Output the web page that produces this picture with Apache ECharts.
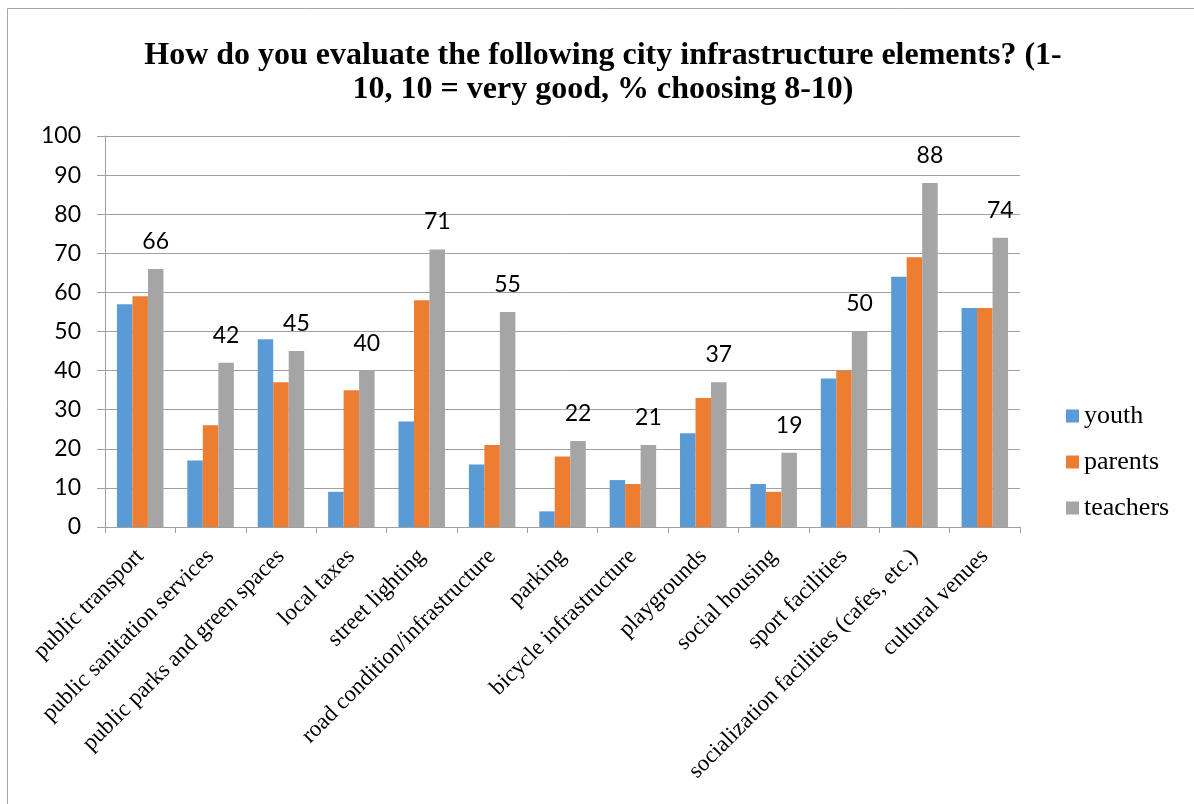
<!DOCTYPE html>
<html>
<head>
<meta charset="utf-8">
<script src="https://cdn.jsdelivr.net/npm/echarts@6/dist/echarts.min.js"></script>
<style>
html,body{margin:0;padding:0;background:#fff;}
#c{width:1194px;height:804px;}
</style>
</head>
<body>
<div id="c"></div>
<script>
const titleLines = ["How do you evaluate the following city infrastructure elements? (1-", "10, 10 = very good, % choosing 8-10)"];
const categories = ["public transport","public sanitation services","public parks and green spaces","local taxes","street lighting","road condition/infrastructure","parking","bicycle infrastructure","playgrounds","social housing","sport facilities","socialization facilities (cafes, etc.)","cultural venues"];
const seriesNames = ["youth","parents","teachers"];
const youth = [57,17,48,9,27,16,4,12,24,11,38,64,56];
const parents = [59,26,37,35,58,21,18,11,33,9,40,69,56];
const teachers = [66,42,45,40,71,55,22,21,37,19,50,88,74];
const yTicks = {min:0, max:100, interval:10};

const colors = ["#5B9BD5","#ED7D31","#A5A5A5"];
const chart = echarts.init(document.getElementById('c'), null, {renderer:'canvas'});
const data = [youth, parents, teachers];
chart.setOption({
  animation:false,
  color: colors,
  graphic:[{type:'rect', shape:{x:7.5,y:8.5,width:1200,height:820}, style:{fill:'none', stroke:'#a6a6a6', lineWidth:1}, silent:true}],
  title:{
    text: titleLines.join('\n'),
    left: 598, textAlign:'center', top:34,
    textStyle:{fontFamily:'Liberation Serif', fontWeight:'bold', fontSize:32, lineHeight:34, color:'#000'}
  },
  legend:{
    orient:'vertical', left:1061, top:398,
    itemWidth:13, itemHeight:13, itemGap:20,
    icon:'rect',
    textStyle:{fontFamily:'Liberation Serif', fontSize:26, lineHeight:26, color:'#000'},
    data: seriesNames
  },
  grid:{left:105, right:174, top:136, bottom:277, containLabel:false},
  xAxis:{
    type:'category', data:categories,
    axisLine:{lineStyle:{color:'#a0a0a0', width:1}},
    axisTick:{show:true, length:6, alignWithLabel:false, lineStyle:{color:'#a0a0a0'}},
    axisLabel:{rotate:45, interval:0, margin:26, fontFamily:'Liberation Serif', fontSize:23, color:'#000'}
  },
  yAxis:{
    type:'value', min:yTicks.min, max:yTicks.max, interval:yTicks.interval,
    axisLine:{show:true, lineStyle:{color:'#a0a0a0'}},
    axisTick:{show:true, length:8, inside:false, lineStyle:{color:'#a0a0a0'}},
    splitLine:{lineStyle:{color:'#a0a0a0', width:1}},
    axisLabel:{margin:24, fontFamily:'Lato', fontSize:23, color:'#000'}
  },
  series: seriesNames.map((n,i)=>({
    name:n, type:'bar', data:data[i], barWidth:15.5, barGap:'0%',
    itemStyle:{color:colors[i]},
    label: i===2 ? {show:true, position:'top', distance:16, fontFamily:'Lato', fontSize:23, color:'#000'} : {show:false}
  }))
});
</script>
</body>
</html>
